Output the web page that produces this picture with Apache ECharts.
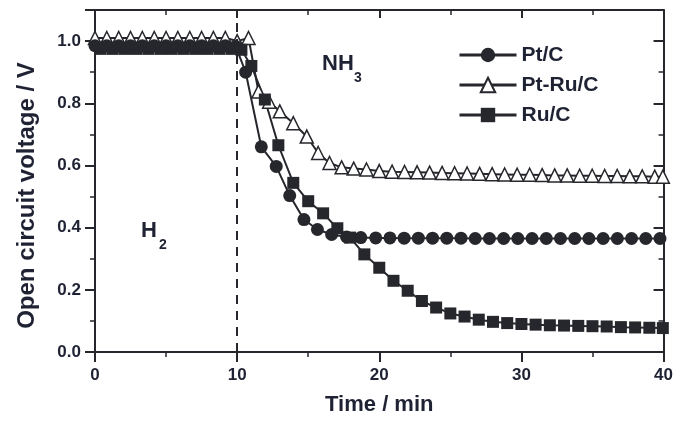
<!DOCTYPE html>
<html>
<head>
<meta charset="utf-8">
<script src="https://cdn.jsdelivr.net/npm/echarts@6/dist/echarts.min.js"></script>
<style>
html,body{margin:0;padding:0;background:#fff;}
#chart{width:676px;height:421px;}
</style>
</head>
<body>
<div id="chart"></div>
<script>
// ---- data ----
const seriesNames = ['Pt/C', 'Pt-Ru/C', 'Ru/C'];

const ptcTime = [0,0.83,1.67,2.5,3.33,4.17,5,5.83,6.67,7.5,8.33,9.17,9.9,10.6,11.7,12.75,13.7,14.7,15.65,16.65,17.7,18.7,19.75,20.75,21.75,22.75,23.75,24.75,25.75,26.75,27.75,28.75,29.75,30.75,31.75,32.75,33.75,34.75,35.75,36.75,37.75,38.75,39.75];
const ptcVolt = [0.985,0.985,0.985,0.985,0.985,0.985,0.985,0.985,0.985,0.985,0.985,0.985,0.983,0.90,0.66,0.597,0.503,0.426,0.394,0.378,0.370,0.368,0.367,0.367,0.366,0.366,0.366,0.366,0.366,0.365,0.365,0.365,0.365,0.365,0.365,0.365,0.365,0.365,0.365,0.365,0.365,0.365,0.365];

const ptruTime = [0,0.83,1.67,2.5,3.33,4.17,5,5.83,6.67,7.5,8.33,9.17,10,10.8,11.5,12.25,13.0,13.95,14.9,15.7,16.5,17.35,18.2,19.1,20.0,20.9,21.78,22.66,23.54,24.42,25.3,26.18,27.06,27.94,28.82,29.7,30.58,31.46,32.34,33.22,34.1,34.98,35.86,36.74,37.62,38.5,39.38,39.95];
const ptruVolt = [1.01,1.01,1.01,1.01,1.01,1.01,1.01,1.01,1.01,1.01,1.01,1.01,1.0,1.01,0.838,0.805,0.774,0.736,0.693,0.640,0.608,0.594,0.590,0.587,0.582,0.580,0.579,0.578,0.577,0.576,0.575,0.574,0.573,0.572,0.571,0.570,0.570,0.569,0.568,0.568,0.567,0.567,0.566,0.566,0.565,0.565,0.564,0.564];

const rucTime = [0.4,1.25,2.1,2.9,3.75,4.6,5.4,6.25,7.1,7.9,8.75,9.6,10.3,11.0,11.95,12.9,13.95,15.0,16.05,17.05,17.95,18.95,20.0,21.0,22.0,23.0,24.0,25.0,26.0,27.0,28.0,29.0,30.0,31.0,32.0,33.0,34.0,35.0,36.0,37.0,38.0,39.0,39.95];
const rucVolt = [0.975,0.975,0.975,0.975,0.975,0.975,0.975,0.975,0.975,0.975,0.975,0.975,0.972,0.92,0.812,0.665,0.544,0.485,0.446,0.398,0.368,0.314,0.271,0.229,0.197,0.164,0.143,0.124,0.114,0.104,0.097,0.093,0.090,0.088,0.086,0.085,0.084,0.083,0.082,0.080,0.079,0.078,0.077];

const switchTime = 10;
const xTicks = [0,10,20,30,40];
const yTicks = [0.0,0.2,0.4,0.6,0.8,1.0];

// ---- chart ----
const pair = (t, v) => t.map((x, i) => [x, v[i]]);
const ink = '#26272c';
const txt = '#1f2233';
const font = 'Liberation Sans, Arial, sans-serif';

const chart = echarts.init(document.getElementById('chart'), null, {renderer: 'canvas'});

const baseX = {
  type: 'value', min: xTicks[0], max: xTicks[xTicks.length - 1], interval: 10,
  axisLine: {show: true, onZero: false, lineStyle: {color: ink, width: 2}},
  splitLine: {show: false},
  minorTick: {show: true, splitNumber: 2, length: 5, lineStyle: {color: ink, width: 1.5}},
};
const baseY = {
  type: 'value', min: 0, max: 1.1, interval: 0.2,
  axisLine: {show: true, onZero: false, lineStyle: {color: ink, width: 2}},
  splitLine: {show: false},
  minorTick: {show: true, splitNumber: 2, length: 5, lineStyle: {color: ink, width: 1.5}},
};

chart.setOption({
  animation: false,
  backgroundColor: '#fff',
  grid: {left: 95, right: 12, top: 10, bottom: 68},
  legend: {
    orient: 'vertical', left: 458, top: 40, padding: 0, itemGap: 0,
    itemWidth: 57, itemHeight: 18,
    data: seriesNames,
    lineStyle: {width: 3},
    textStyle: {fontFamily: font, fontWeight: 'bold', fontSize: 21, color: txt, lineHeight: 30}
  },
  xAxis: [
    Object.assign({}, baseX, {
      position: 'bottom',
      name: 'Time / min', nameLocation: 'middle', nameGap: 42,
      nameTextStyle: {fontFamily: font, fontWeight: 'bold', fontSize: 22, color: txt},
      axisTick: {show: true, inside: false, length: 10, lineStyle: {color: ink, width: 2}},
      axisLabel: {margin: 15, fontFamily: font, fontWeight: 'bold', fontSize: 17, color: txt}
    }),
    Object.assign({}, baseX, {
      position: 'top',
      axisTick: {show: true, inside: true, length: 8, lineStyle: {color: ink, width: 2}},
      axisLabel: {show: false}
    })
  ],
  yAxis: [
    Object.assign({}, baseY, {
      position: 'left',
      name: 'Open circuit voltage / V', nameLocation: 'middle', nameGap: 56,
      nameTextStyle: {fontFamily: font, fontWeight: 'bold', fontSize: 24, color: txt, padding: [0, 29, 0, 0]},
      axisTick: {show: true, inside: false, length: 10, lineStyle: {color: ink, width: 2}},
      axisLabel: {margin: 14, showMaxLabel: false, fontFamily: font, fontWeight: 'bold', fontSize: 17, color: txt,
                  formatter: v => v.toFixed(1)}
    }),
    Object.assign({}, baseY, {
      position: 'right',
      axisTick: {show: true, inside: true, length: 10, lineStyle: {color: ink, width: 2}},
      axisLabel: {show: false}
    })
  ],
  series: [
    {
      name: 'Pt-Ru/C', type: 'line', data: pair(ptruTime, ptruVolt),
      symbol: 'triangle', symbolSize: 13,
      lineStyle: {color: ink, width: 2},
      itemStyle: {color: '#fff', borderColor: ink, borderWidth: 1.5},
      markLine: {
        silent: true, symbol: ['none', 'none'], label: {show: false},
        lineStyle: {color: ink, width: 2, type: [9, 7]},
        data: [{xAxis: switchTime}]
      }
    },
    {
      name: 'Pt/C', type: 'line', data: pair(ptcTime, ptcVolt),
      symbol: 'circle', symbolSize: 13,
      lineStyle: {color: ink, width: 2},
      itemStyle: {color: ink, borderColor: ink, borderWidth: 0}
    },
    {
      name: 'Ru/C', type: 'line', data: pair(rucTime, rucVolt),
      symbol: 'rect', symbolSize: 12,
      lineStyle: {color: ink, width: 2},
      itemStyle: {color: ink, borderColor: ink, borderWidth: 0}
    }
  ],
  graphic: [
    {type: 'text', left: 322, top: 53, style: {text: 'NH', fontFamily: font, fontWeight: 'bold', fontSize: 22, fill: txt}},
    {type: 'text', left: 354, top: 71, style: {text: '3', fontFamily: font, fontWeight: 'bold', fontSize: 14, fill: txt}},
    {type: 'text', left: 141, top: 220, style: {text: 'H', fontFamily: font, fontWeight: 'bold', fontSize: 22, fill: txt}},
    {type: 'text', left: 159, top: 238, style: {text: '2', fontFamily: font, fontWeight: 'bold', fontSize: 14, fill: txt}}
  ]
});
</script>
</body>
</html>
